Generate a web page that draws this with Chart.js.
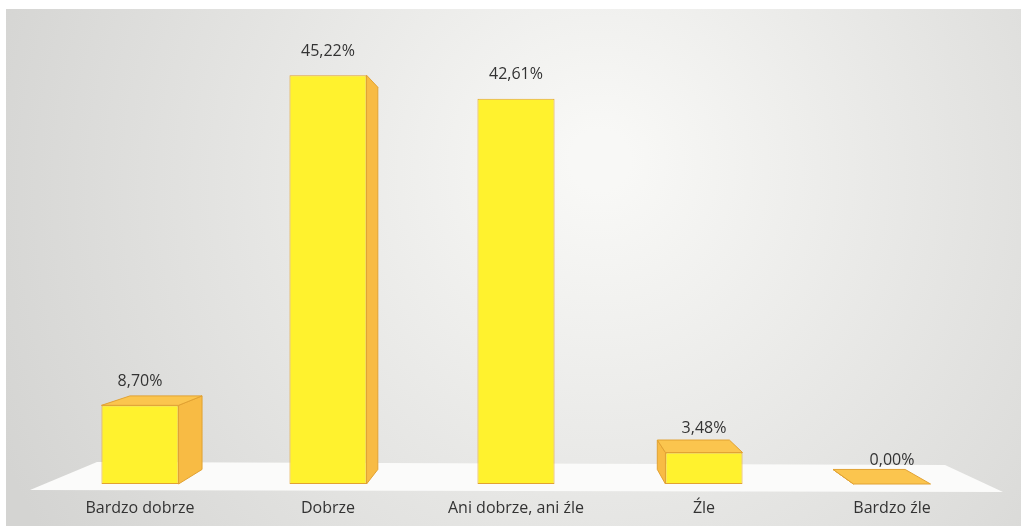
<!DOCTYPE html>
<html>
<head>
<meta charset="utf-8">
<script src="https://cdn.jsdelivr.net/npm/chart.js@4"></script>
<style>
  body { margin: 0; background: #fff; }
  #wrap { width: 1021px; height: 526px; }
</style>
</head>
<body>
<div id="wrap"><canvas id="bar-chart"></canvas></div>
<script>
const labels = ["Bardzo dobrze", "Dobrze", "Ani dobrze, ani źle", "Źle", "Bardzo źle"];
const values = [8.70, 45.22, 42.61, 3.48, 0.00];

// vanishing point and depth for the fake 3D look
const VP = { x: 540, y: 260 };
const DEPTH = 0.065;

function back(p) {
    return { x: p.x + (VP.x - p.x) * DEPTH, y: p.y + (VP.y - p.y) * DEPTH };
}

function poly(ctx, pts, fill, stroke) {
    ctx.beginPath();
    ctx.moveTo(pts[0].x, pts[0].y);
    for (let i = 1; i < pts.length; i++) ctx.lineTo(pts[i].x, pts[i].y);
    ctx.closePath();
    ctx.fillStyle = fill;
    ctx.fill();
    ctx.strokeStyle = stroke;
    ctx.lineWidth = 1;
    ctx.stroke();
}

const bg3d = {
    id: 'bg3d',
    beforeDraw(chart) {
        const ctx = chart.ctx;
        const area = chart.chartArea;
        const base = chart.scales.y.getPixelForValue(0);
        ctx.save();
        ctx.fillStyle = '#ffffff';
        ctx.fillRect(0, 0, chart.width, chart.height);
        const g = ctx.createRadialGradient(600, 160, 30, 600, 200, 650);
        g.addColorStop(0, '#f8f8f6');
        g.addColorStop(0.55, '#e4e4e2');
        g.addColorStop(1, '#d4d4d2');
        ctx.fillStyle = g;
        ctx.fillRect(6, 9, chart.width - 6, chart.height - 9);
        // floor
        ctx.beginPath();
        ctx.moveTo(area.left - 16, base + 6);
        ctx.lineTo(area.left + 51, base - 22);
        ctx.lineTo(area.right - 41, base - 19);
        ctx.lineTo(area.right + 17, base + 8);
        ctx.closePath();
        ctx.fillStyle = '#fbfbfa';
        ctx.fill();
        ctx.restore();
    },
    beforeDatasetsDraw(chart) {
        const ctx = chart.ctx;
        ctx.save();
        chart.getDatasetMeta(0).data.forEach(bar => {
            const L = bar.x - bar.width / 2, R = bar.x + bar.width / 2;
            const T = bar.y, B = bar.base;
            const ftl = { x: L, y: T }, ftr = { x: R, y: T };
            const fbl = { x: L, y: B }, fbr = { x: R, y: B };
            const btl = back(ftl), btr = back(ftr), bbl = back(fbl), bbr = back(fbr);
            const side = '#f8bb44', top = '#fbc54e', edge = '#e2a232';
            if (R < VP.x) poly(ctx, [ftr, fbr, bbr, btr], side, edge);
            if (L > VP.x) poly(ctx, [ftl, fbl, bbl, btl], side, edge);
            if (T > VP.y) poly(ctx, [ftl, ftr, btr, btl], top, edge);
        });
        ctx.restore();
    },
    afterDatasetsDraw(chart) {
        const ctx = chart.ctx;
        ctx.save();
        ctx.font = '16px "Open Sans"';
        ctx.fillStyle = '#333333';
        ctx.textAlign = 'center';
        ctx.textBaseline = 'middle';
        chart.getDatasetMeta(0).data.forEach((bar, i) => {
            const txt = values[i].toFixed(2).replace('.', ',') + '%';
            ctx.fillText(txt, bar.x, bar.y - 24);
        });
        ctx.restore();
    }
};

new Chart(document.getElementById("bar-chart"), {
    type: 'bar',
    data: {
        labels: labels,
        datasets: [{
            data: values,
            backgroundColor: '#fff22e',
            borderColor: '#e2a232',
            borderWidth: 1,
            borderSkipped: false,
            barPercentage: 0.41,
            categoryPercentage: 1
        }]
    },
    options: {
        responsive: true,
        maintainAspectRatio: false,
        animation: false,
        layout: {
            padding: { top: 32, left: 46, right: 35, bottom: 9 }
        },
        scales: {
            x: {
                grid: { display: false, drawTicks: false },
                border: { display: false },
                ticks: {
                    padding: 15,
                    color: '#333333',
                    font: { family: '"Open Sans"', size: 16 }
                },
                afterFit(scale) { scale.height = 33; }
            },
            y: {
                display: false,
                min: 0,
                max: 50
            }
        },
        plugins: {
            legend: { display: false },
            tooltip: { enabled: false }
        }
    },
    plugins: [bg3d]
});
</script>
</body>
</html>
